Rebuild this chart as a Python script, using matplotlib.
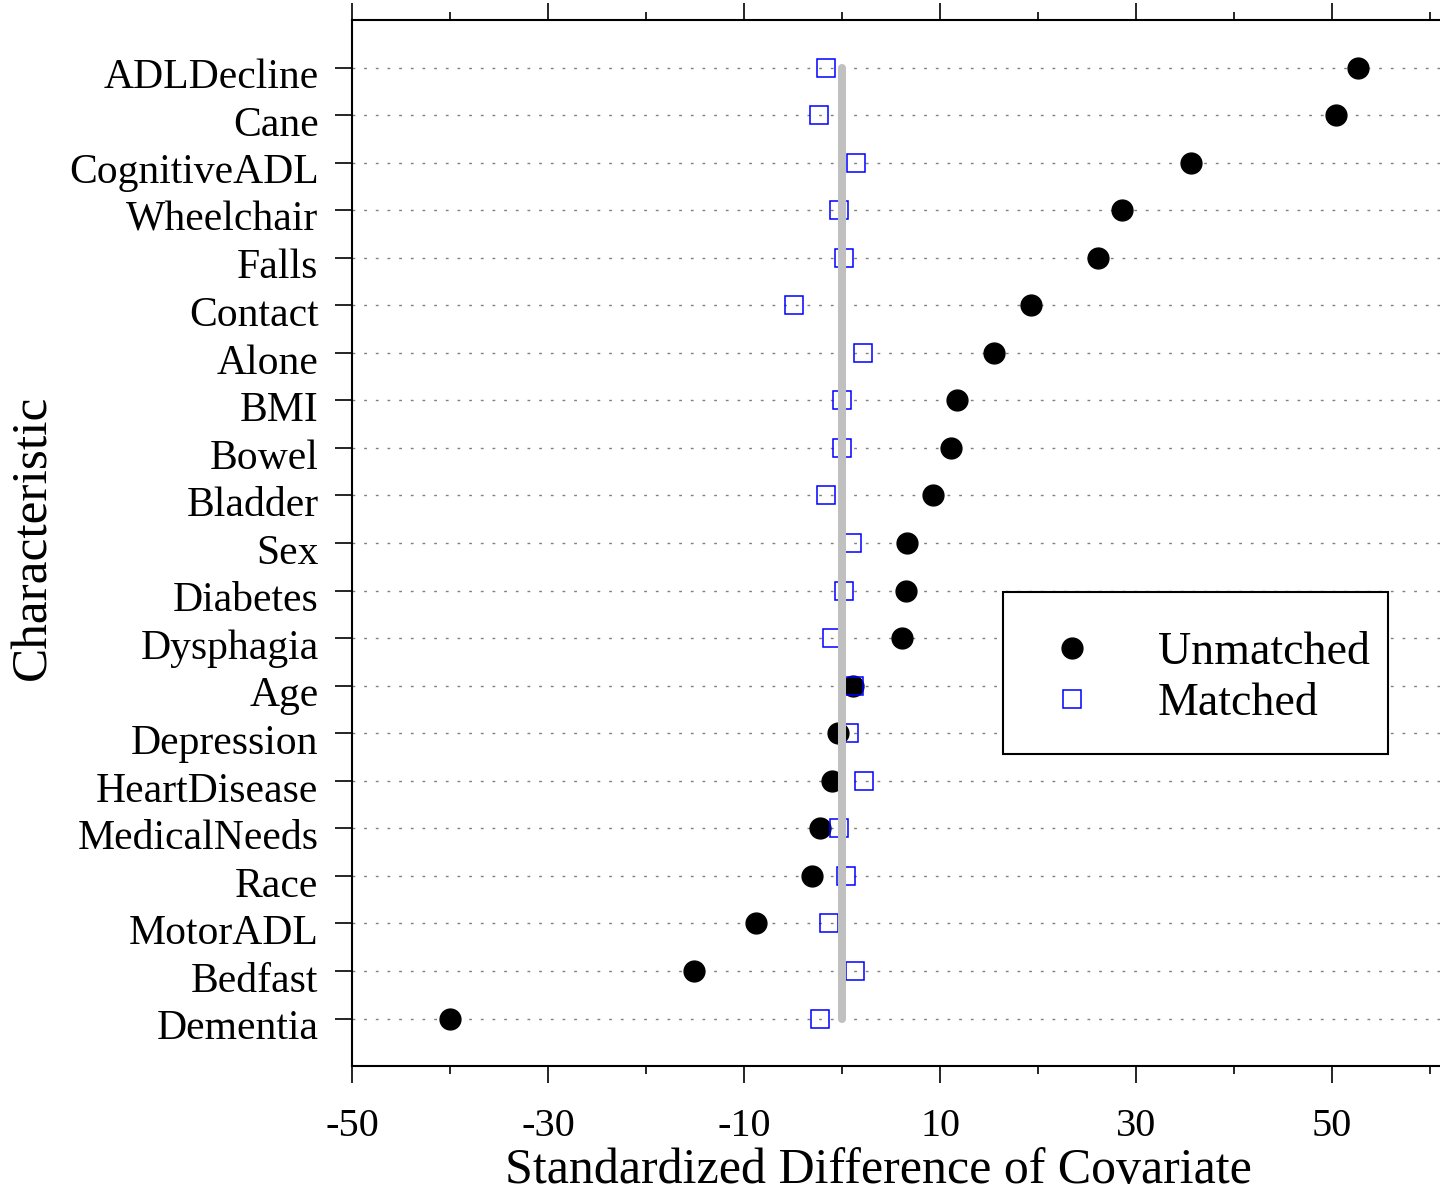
import matplotlib
matplotlib.use("Agg")
import matplotlib.pyplot as plt
import matplotlib.transforms as mtransforms
from matplotlib.patches import Rectangle

# covariates, top to bottom
characteristics = ["ADLDecline", "Cane", "CognitiveADL", "Wheelchair", "Falls",
                   "Contact", "Alone", "BMI", "Bowel", "Bladder", "Sex",
                   "Diabetes", "Dysphagia", "Age", "Depression", "HeartDisease",
                   "MedicalNeeds", "Race", "MotorADL", "Bedfast", "Dementia"]
unmatched = [52.6, 50.4, 35.6, 28.6, 26.1, 19.3, 15.5, 11.7, 11.1, 9.3, 6.6,
             6.5, 6.1, 1.1, -0.4, -1.0, -2.3, -3.1, -8.8, -15.1, -40.0]
matched = [-1.6, -2.4, 1.4, -0.3, 0.2, -4.9, 2.1, 0.0, 0.0, -1.6, 1.0,
           0.2, -1.0, 1.2, 0.7, 2.2, -0.3, 0.4, -1.3, 1.3, -2.3]
major_ticks = [-50, -30, -10, 10, 30, 50]
minor_ticks = [-40, -20, 0, 20, 40, 60]

plt.rcParams["font.family"] = ["Liberation Serif", "DejaVu Serif"]

n = len(characteristics)
ypos = list(range(n, 0, -1))

fig = plt.figure(figsize=(14.4, 11.97), dpi=100)
ax = fig.add_axes([0.2444, 0.1094, 0.7556, 0.8739])

# dotted reference lines for each row
for y in ypos:
    ax.axhline(y, color="#808080", lw=1.0, ls=(0, (2, 6.4)), zorder=1)

ax.plot(unmatched, ypos, "o", color="black", ms=15, ls="none",
        label="Unmatched", zorder=3)
ax.plot(matched, ypos, "s", mfc="none", mec="#0000ff", mew=1.1, ms=13.5,
        ls="none", label="Matched", zorder=4)

# zero line
ax.plot([0, 0], [ypos[-1], ypos[0]], color="#c0c0c0", lw=5.8,
        solid_capstyle="round", zorder=5)

ax.set_xlim(-50, 61)
ax.set_ylim(0, n + 1)
ax.set_yticks(ypos)
ax.set_yticklabels(characteristics)
ax.set_xticks(major_ticks)
ax.set_xticks(minor_ticks, minor=True)
ax.set_xticklabels([str(t) for t in major_ticks])

ax.spines["right"].set_visible(False)
for s in ["left", "top", "bottom"]:
    ax.spines[s].set_linewidth(1.5)

ax.tick_params(axis="y", which="major", labelsize=30, length=12, width=1.2,
               direction="out", pad=12)
ax.tick_params(axis="x", which="major", labelsize=29, length=12, width=1.2,
               direction="out", pad=18, top=True)
ax.tick_params(axis="x", which="minor", length=6, width=1.2,
               direction="out", top=True)

# nudge the row labels down a little
shift = mtransforms.ScaledTranslation(0, -6 / 100, fig.dpi_scale_trans)
for lab in ax.get_yticklabels():
    lab.set_transform(lab.get_transform() + shift)

ax.set_xlabel("Standardized Difference of Covariate", fontsize=36)
ax.xaxis.set_label_coords(0.4835, -0.078)
ax.set_ylabel("Characteristic", fontsize=37)
ax.yaxis.set_label_coords(-0.272, 0.505)

# legend box
ax.add_patch(Rectangle((0.598, 0.298), 0.354, 0.155, transform=ax.transAxes,
                       fc="white", ec="black", lw=1.5, zorder=6))
leg = ax.legend(loc="upper left", bbox_to_anchor=(0.598, 0.453), fontsize=33,
                frameon=False, borderpad=0.85, handlelength=1.31,
                handletextpad=1.22, labelspacing=0.2, borderaxespad=0)
leg.set_zorder(7)

fig.savefig("out.png", dpi=100)
